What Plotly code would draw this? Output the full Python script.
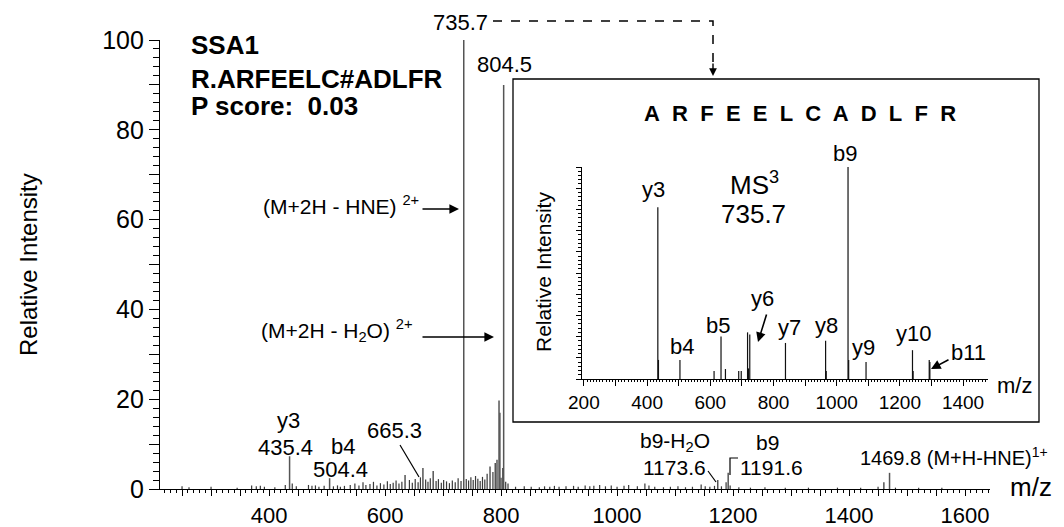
import plotly.graph_objects as go

# ---------------- data ----------------
# main MS2 spectrum: labelled / prominent peaks
main_mz = [735.7, 804.5, 796.5, 798.0, 435.4, 504.4, 665.3, 683.0, 634.5,
           790.0, 793.0, 781.0, 803.0, 1173.6, 1191.6, 1469.8, 1460.0]
main_int = [100, 90, 19.7, 17.0, 7.3, 2.4, 4.7, 4.0, 3.1,
            5.8, 6.5, 5.0, 4.7, 2.0, 3.6, 3.6, 1.5]

# main MS2 spectrum: small background peaks (read by eye)
noise_mz = [250, 262, 300, 345, 370, 378, 385, 392, 410, 428, 440, 447, 468, 474,
            480, 486, 495, 511, 518, 523, 530, 540, 548, 555, 562, 567, 574, 580,
            586, 592, 598, 604, 609, 614, 619, 624, 629, 642, 647, 652, 657, 661,
            670, 674, 678, 688, 692, 697, 701, 706, 711, 716, 721, 726, 731, 740,
            744, 748, 752, 756, 760, 764, 768, 772, 776, 786, 800, 808, 812, 825,
            840, 852, 866, 875, 884, 892, 900, 912, 925, 933, 945, 953, 960, 970,
            980, 990, 1000, 1012, 1020, 1035, 1048, 1055, 1065, 1080, 1092, 1105,
            1118, 1130, 1145, 1152, 1160, 1168, 1180, 1188, 1195, 1210, 1230, 1255,
            1290, 1330, 1380, 1420, 1450, 1480, 1520, 1560]
noise_int = [0.6, 0.4, 0.5, 0.3, 0.8, 0.6, 0.7, 0.5, 0.4, 0.9, 1.2, 0.6, 0.9, 0.7,
             0.8, 0.5, 0.7, 0.6, 0.8, 0.5, 0.7, 0.9, 1.2, 0.8, 1.5, 0.9, 1.1, 1.6,
             0.8, 1.3, 1.0, 1.7, 1.1, 1.4, 1.9, 1.2, 1.6, 2.0, 1.4, 2.2, 1.5, 2.6,
             2.1, 1.6, 2.4, 1.8, 2.2, 1.4, 2.0, 1.7, 1.3, 1.9, 1.5, 2.4, 1.8, 2.2,
             1.9, 2.6, 2.0, 2.9, 2.3, 1.8, 2.7, 2.1, 3.4, 3.8, 2.5, 1.6, 1.2, 0.5,
             0.6, 0.5, 0.4, 0.6, 0.5, 0.7, 0.5, 0.6, 0.7, 0.5, 0.8, 0.6, 0.7, 0.9,
             0.6, 0.8, 0.5, 0.7, 0.9, 0.6, 1.2, 0.8, 0.5, 0.4, 0.5, 0.6,
             0.4, 0.5, 1.0, 0.6, 0.5, 0.7, 0.6, 1.5, 0.8, 0.4, 0.3, 0.4,
             0.3, 0.3, 0.3, 0.3, 0.5, 0.3, 0.3, 0.3]

# inset MS3 spectrum of 735.7
inset_mz = [434, 436, 504, 612, 634, 648, 690, 698, 718, 721, 725, 838, 965, 967,
            1036, 1038, 1093, 1240, 1242, 1293, 1295]
inset_int = [81, 9, 9, 3.8, 20, 4.7, 3.8, 3.8, 22, 5, 21, 17, 18, 3.8,
             100, 9, 8, 13.6, 3.8, 9, 8]

main_xrange = [212, 1643]
main_yticks = [0, 10, 20, 30, 40, 50, 60, 70, 80, 90, 100]
main_ytext = ["0", "", "20", "", "40", "", "60", "", "80", "", "100"]
main_xticks = list(range(250, 1651, 50))
main_xtext = [str(v) if v % 200 == 0 else "" for v in main_xticks]
inset_xrange = [194, 1479]
inset_xticks = list(range(200, 1401, 100))
inset_xtext = [str(v) if v % 200 == 0 else "" for v in inset_xticks]


def sticks(mz, inten):
    xs, ys = [], []
    for m, h in zip(mz, inten):
        xs += [m, m, None]
        ys += [0, h, None]
    return xs, ys


# ---------------- geometry helpers (page pixel -> paper) ----------------
O = 8                       # default page body margin
W, H = 1064 - O, 527 - O    # figure size so that it fits the window
L, R, T, B = 160, 990, 40, 489   # plot area in page pixels


def px(x):
    return (x - L) / (R - L)


def py(y):
    return (B - y) / (B - T)


FONT = "Arial, Liberation Sans, sans-serif"

fig = go.Figure()

nx, ny = sticks(noise_mz, noise_int)
fig.add_trace(go.Scatter(x=nx, y=ny, mode="lines", line=dict(color="#3a3a3a", width=1.2),
                         hoverinfo="skip", showlegend=False))
mx, my = sticks(main_mz, main_int)
fig.add_trace(go.Scatter(x=mx, y=my, mode="lines", line=dict(color="#555555", width=1.5),
                         hoverinfo="skip", showlegend=False))
ix, iy = sticks(inset_mz, inset_int)
fig.add_trace(go.Scatter(x=ix, y=iy, mode="lines", line=dict(color="#111111", width=1.2),
                         xaxis="x2", yaxis="y2", hoverinfo="skip", showlegend=False))

fig.update_layout(
    width=W, height=H,
    margin=dict(l=L - O, r=W - (R - O), t=T - O, b=H - (B - O), autoexpand=False),
    paper_bgcolor="white", plot_bgcolor="rgba(0,0,0,0)",
    font=dict(family=FONT, color="black"),
    showlegend=False,
    xaxis=dict(range=main_xrange, showgrid=False, zeroline=False, showline=True,
               automargin=False,
               linecolor="black", linewidth=1.2, ticks="outside", ticklen=6,
               tickwidth=1, tickcolor="black", tickmode="array", tickvals=main_xticks,
               ticktext=main_xtext, tickfont=dict(size=22),
               minor=dict(dtick=10, tick0=0, ticks="outside", ticklen=3,
                          tickcolor="black", tickwidth=1)),
    yaxis=dict(range=[0, 100], showgrid=False, zeroline=False, showline=True,
               automargin=False,
               linecolor="black", linewidth=1.2, ticks="outside", ticklen=10,
               tickwidth=1, tickcolor="black", tickmode="array", tickvals=main_yticks,
               ticktext=main_ytext, tickfont=dict(size=25),
               minor=dict(dtick=2, tick0=0, ticks="outside", ticklen=6,
                          tickcolor="black", tickwidth=1)),
    xaxis2=dict(domain=[px(582), px(988)], anchor="y2", range=inset_xrange,
                automargin=False,
                showgrid=False, zeroline=False, showline=True, linecolor="black",
                linewidth=1.2, ticks="outside", ticklen=6, tickcolor="black",
                tickmode="array", tickvals=inset_xticks, ticktext=inset_xtext,
                tickfont=dict(size=19),
                minor=dict(dtick=10, tick0=0, ticks="outside", ticklen=2,
                           tickcolor="black")),
    yaxis2=dict(domain=[py(379), py(167)], anchor="x2", range=[0, 100],
                automargin=False,
                showgrid=False, zeroline=False, showline=True, linecolor="black",
                linewidth=1.2, ticks="outside", ticklen=5, tickcolor="black",
                dtick=10, showticklabels=False,
                minor=dict(dtick=2, ticks="outside", ticklen=3, tickcolor="black")),
)

shapes = []
# inset frame
shapes.append(dict(type="rect", xref="paper", yref="paper",
                   x0=px(513), x1=px(1039), y0=py(422), y1=py(79),
                   line=dict(color="black", width=1.3), fillcolor="rgba(0,0,0,0)"))
# dashed connector from 735.7 to the inset
shapes.append(dict(type="path", xref="paper", yref="paper",
                   path=f"M {px(493)},{py(21)} L {px(713)},{py(21)} L {px(713)},{py(66)}",
                   line=dict(color="black", width=1.5, dash="dash")))
# leader lines
shapes.append(dict(type="line", xref="paper", yref="paper",
                   x0=px(400), y0=py(445), x1=px(419), y1=py(477),
                   line=dict(color="black", width=1.2)))
shapes.append(dict(type="line", xref="paper", yref="paper",
                   x0=px(708), y0=py(471), x1=px(716), y1=py(482),
                   line=dict(color="black", width=1.2)))
shapes.append(dict(type="path", xref="paper", yref="paper",
                   path=f"M {px(730)},{py(475)} L {px(730)},{py(458)} L {px(738)},{py(458)}",
                   line=dict(color="black", width=1.2)))
fig.update_layout(shapes=shapes)

ann = []


def txt(text, x, y, size=21, bold=False, xanchor="center", angle=0):
    t = f"<b>{text}</b>" if bold else text
    ann.append(dict(text=t, x=px(x), y=py(y), xref="paper", yref="paper",
                    xanchor=xanchor, yanchor="middle", showarrow=False,
                    textangle=angle, font=dict(size=size, family=FONT, color="black")))


def arrow(hx, hy, tx, ty, width=1.6, size=1.2):
    ann.append(dict(text="", x=px(hx), y=py(hy), xref="paper", yref="paper",
                    ax=tx - hx, ay=ty - hy, axref="pixel", ayref="pixel",
                    showarrow=True, arrowhead=2, arrowsize=size, arrowwidth=width,
                    arrowcolor="black", standoff=0, startstandoff=0))


# main panel text
txt("735.7", 460, 22, 22)
txt("804.5", 504, 64, 22)
txt("SSA1", 189, 45, 26, True, "left")
txt("R.ARFEELC#ADLFR", 189, 79, 26, True, "left")
txt("P score:\u00a0\u00a00.03", 189, 106, 26, True, "left")
txt("(M+2H - HNE) <sup>2+</sup>", 421, 205, 21, False, "right")
txt("(M+2H - H<sub>2</sub>O) <sup>2+</sup>", 415, 330, 21, False, "right")
arrow(459, 209, 421, 209)
arrow(494, 337, 421, 337)
txt("y3", 288, 420, 22)
txt("435.4", 285, 447, 22)
txt("b4", 343, 446, 22)
txt("504.4", 340, 469, 22)
txt("665.3", 394, 430, 22)
txt("b9-H<sub>2</sub>O", 675, 442, 21)
txt("1173.6", 674, 467, 21)
txt("b9", 767, 442, 21)
txt("1191.6", 771, 467, 21)
txt("1469.8 (M+H-HNE)<sup>1+</sup>", 858, 456, 20, False, "left")
txt("m/z", 1031, 487, 26)
txt("Relative Intensity", 28, 265, 24, False, "center", -90)
arrow(713, 76, 713, 62, 1.4, 1.1)

# inset text
txt("A\u00a0 R\u00a0 F\u00a0 E\u00a0 E\u00a0 L\u00a0 C\u00a0 A\u00a0 D\u00a0 L\u00a0 F\u00a0 R", 800, 113, 22, True)
txt("b9", 845, 153, 22)
txt("y3", 653, 190, 22)
txt("MS<sup>3</sup>", 754, 183, 26)
txt("735.7", 753, 214, 26)
txt("y6", 762, 298, 22)
arrow(758, 342, 767, 313)
txt("b5", 718, 325, 22)
txt("b4", 682, 346, 22)
txt("y7", 789, 327, 22)
txt("y8", 826, 325, 22)
txt("y9", 863, 347, 22)
txt("y10", 913, 333, 22)
txt("b11", 968, 352, 22)
arrow(931, 369, 950, 359)
txt("m/z", 1015, 385, 22)
txt("Relative Intensity", 543, 272, 21, False, "center", -90)

fig.update_layout(annotations=ann)

fig.write_html("out.html")
